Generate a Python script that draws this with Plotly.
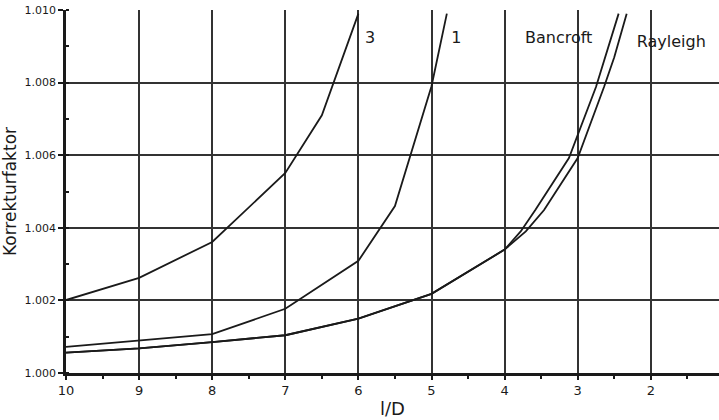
import plotly.graph_objects as go

# Curve data (x = l/D, y = Korrekturfaktor)
x_c3 = [10, 9, 8, 7, 6.5, 6.0]
y_c3 = [1.00201, 1.00262, 1.00361, 1.00551, 1.0071, 1.0099]

x_c1 = [10, 9, 8, 7, 6, 5.5, 5.0, 4.79]
y_c1 = [1.00072, 1.00089, 1.00107, 1.00177, 1.00309, 1.0046, 1.0079, 1.0099]

x_bancroft = [10, 9, 8, 7, 6, 5, 4, 3.78, 3.58, 3.12, 2.75, 2.44]
y_bancroft = [1.00056, 1.00068, 1.00085, 1.00104, 1.0015, 1.00218, 1.0034, 1.0039, 1.00449, 1.00592, 1.00788, 1.0099]

x_rayleigh = [10, 9, 8, 7, 6, 5, 4, 3.71, 3.46, 3.0, 2.64, 2.5, 2.33]
y_rayleigh = [1.00056, 1.00068, 1.00085, 1.00104, 1.0015, 1.00218, 1.0034, 1.0039, 1.00449, 1.00592, 1.00788, 1.0087, 1.0099]

x_ticks = [10, 9, 8, 7, 6, 5, 4, 3, 2]
y_ticks = [1.000, 1.002, 1.004, 1.006, 1.008, 1.010]

labels = ["3", "1", "Bancroft", "Rayleigh"]
label_x = [5.84, 4.66, 3.26, 1.72]
label_y = [1.0092, 1.0092, 1.0092, 1.0091]

ink = "#1a1a1a"
font = "DejaVu Sans"

fig = go.Figure()
for xs, ys in [(x_c3, y_c3), (x_c1, y_c1), (x_bancroft, y_bancroft), (x_rayleigh, y_rayleigh)]:
    fig.add_trace(go.Scatter(x=xs, y=ys, mode="lines",
                             line=dict(color=ink, width=1.8), showlegend=False,
                             hoverinfo="skip"))

fig.add_trace(go.Scatter(x=label_x, y=label_y, mode="text", text=labels,
                         textfont=dict(family=font, size=16, color=ink),
                         showlegend=False, hoverinfo="skip"))

fig.update_layout(
    width=719, height=420,
    margin=dict(l=66, r=0, t=10, b=47),
    paper_bgcolor="white", plot_bgcolor="white",
    font=dict(family=font, color=ink),
    xaxis=dict(
        range=[10, 1.067], tickvals=x_ticks, ticktext=[str(v) for v in x_ticks],
        showgrid=True, gridcolor="#333333", gridwidth=1.6,
        showline=True, linecolor=ink, linewidth=2.5, mirror=False,
        ticks="outside", ticklen=4, tickcolor=ink, tickwidth=1.5,
        tickfont=dict(family=font, size=13, color=ink),
        minor=dict(dtick=0.5, tick0=0.5, ticks="outside", ticklen=3, tickcolor=ink, showgrid=False),
        zeroline=False,
        title=dict(text="l/D", font=dict(family=font, size=18, color=ink), standoff=6),
    ),
    yaxis=dict(
        range=[1.000, 1.010], tickvals=y_ticks, tickformat=".3f",
        showgrid=True, gridcolor="#333333", gridwidth=1.6,
        showline=True, linecolor=ink, linewidth=2.5,
        ticks="outside", ticklen=5, tickcolor=ink, tickwidth=1.5,
        tickfont=dict(family=font, size=11, color=ink),
        minor=dict(dtick=0.001, tick0=1.001, ticks="inside", ticklen=3, tickcolor=ink, showgrid=False),
        zeroline=False,
        title=dict(text="Korrekturfaktor", font=dict(family=font, size=17, color=ink), standoff=6),
    ),
)

fig.write_html("out.html")
